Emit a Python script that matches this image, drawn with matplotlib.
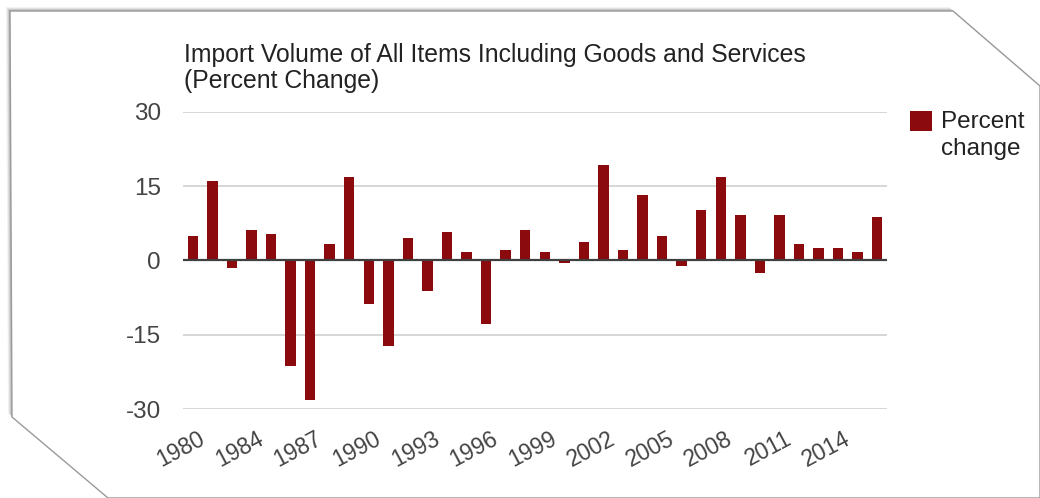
"""Import volume of all items (goods and services), percent change per year."""

import matplotlib

matplotlib.use("Agg")
import matplotlib.pyplot as plt
from matplotlib.patches import Polygon, Rectangle
from matplotlib.transforms import ScaledTranslation

plt.rcParams["font.family"] = ["Liberation Sans", "DejaVu Sans"]
plt.rcParams["axes.unicode_minus"] = False

# one year is skipped in the source between 1980 and 1984
years = [1980, 1982, 1983] + list(range(1984, 2017))
pct_change = [
    5.0, 16.0, -1.5, 6.2, 5.4, -21.3, -28.2, 3.4, 16.8, -8.7,
    -17.2, 4.6, -6.2, 5.8, 1.8, -12.8, 2.2, 6.2, 1.8, -0.6,
    3.8, 19.3, 2.2, 13.2, 5.0, -1.1, 10.3, 16.8, 9.1, -2.5,
    9.1, 3.4, 2.6, 2.6, 1.8, 8.7,
]
y_ticks = [-30, -15, 0, 15, 30]
title = "Import Volume of All Items Including Goods and Services\n(Percent Change)"
series_name = "Percent\nchange"

BAR = "#8a0a0d"
W, H = 1040, 498


def fx(px):
    return px / W


def fy(py):
    return 1 - py / H


fig = plt.figure(figsize=(W / 100, H / 100), dpi=100)
fig.patch.set_facecolor("white")

# card with clipped corners and a soft shadow
card = [(10, 11), (953, 11), (1040, 86), (1040, 498), (108, 498), (12, 417)]
for i, a in enumerate((0.05, 0.07, 0.09, 0.12)):
    off = 4 - i
    shadow = [(fx(x - off), fy(y - off)) for x, y in card]
    fig.patches.append(Polygon(shadow, closed=True, transform=fig.transFigure,
                               facecolor="black", edgecolor="none", alpha=a, zorder=-3))
fig.patches.append(Polygon([(fx(x), fy(y)) for x, y in card], closed=True,
                           transform=fig.transFigure, facecolor="white",
                           edgecolor="#9a9a9a", lw=1.0, zorder=-2))

ax = fig.add_axes([fx(183), fy(409), fx(887) - fx(183), fy(112) - fy(409)])
ax.set_facecolor("none")
idx = list(range(len(years)))
ax.bar(idx, pct_change, width=0.53, color=BAR, zorder=3)

ax.set_xlim(-0.5, len(years) - 0.5)
ax.set_ylim(-30, 30)
ax.set_yticks(y_ticks)
ax.yaxis.grid(True, color="#d0d0d0", lw=1.2, zorder=0)
ax.axhline(0, color="#404040", lw=1.6, zorder=4)
for s in ax.spines.values():
    s.set_visible(False)
ax.tick_params(axis="both", length=0, labelsize=17.5, labelcolor="#444444")
ax.tick_params(axis="y", pad=16)

tick_idx = idx[::3]
ax.set_xticks(tick_idx)
ax.set_xticklabels([str(years[i]) for i in tick_idx], rotation=28,
                   ha="right", va="top", rotation_mode="anchor", fontsize=16.5)
ax.tick_params(axis="x", pad=13)
shift = ScaledTranslation(5 / 100, 0, fig.dpi_scale_trans)
for lab in ax.get_xticklabels():
    lab.set_transform(lab.get_transform() + shift)

fig.text(fx(184), fy(43), title, ha="left", va="top", fontsize=17.8,
         color="#222222", linespacing=1.1)

# legend: swatch lined up with the first text line
fig.patches.append(Rectangle((fx(910), fy(131)), fx(22), 20 / H,
                             transform=fig.transFigure, facecolor=BAR,
                             edgecolor="none"))
fig.text(fx(941), fy(111), series_name, ha="left", va="top", fontsize=17.5,
         color="#222222", linespacing=1.3)

fig.savefig("out.png", dpi=100)
